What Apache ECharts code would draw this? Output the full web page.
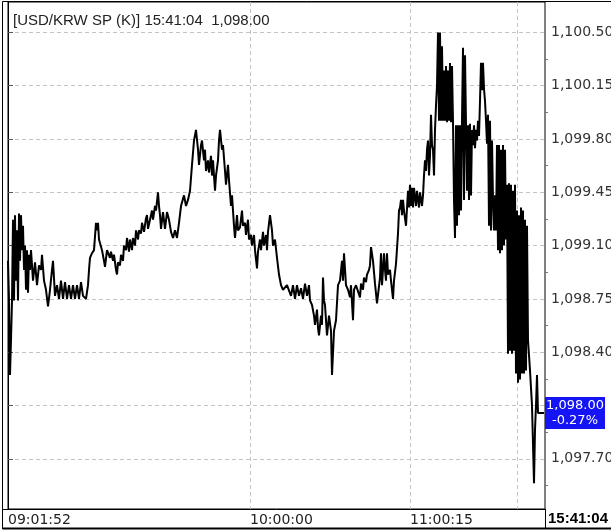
<!DOCTYPE html>
<html><head><meta charset="utf-8">
<script src="https://cdn.jsdelivr.net/npm/echarts@6/dist/echarts.min.js"></script>
<style>html,body{margin:0;padding:0;background:#fff;}#c{width:611px;height:532px;}</style>
</head><body><div id="c"></div>
<script>
// ---- data ----
const symbolName = '[USD/KRW SP (K)]';
const lastTime = '15:41:04';
const changePct = -0.27;
// tick number (sequence of trades) and price
const tickNo = [0,1,2,3,4,5,6,7,8,9,10,11,12,13,14,15,16,17,18,19,20,21,22,23,25,27,29,31,33,34,36,38,40,42,44,45,47,49,51,53,55,57,59,61,63,65,67,69,71,73,75,78,80,81,82,84,86,88,89,90,91,92,94,96,97,99,100,102,103,105,106,108,109,110,112,113,115,116,118,119,121,122,124,125,127,128,130,131,133,134,136,138,139,140,142,144,145,147,148,150,151,152,153,155,157,159,161,163,165,167,169,171,173,175,176,178,180,182,184,186,188,190,191,193,194,196,197,198,200,201,203,204,205,207,208,210,211,212,214,215,217,218,220,221,223,224,226,227,229,230,232,234,235,237,238,240,241,243,244,246,247,249,250,252,253,255,256,258,259,260,262,264,265,267,269,271,273,275,277,279,281,283,285,287,289,291,293,295,297,299,301,302,304,306,307,309,310,311,313,314,315,316,317,318,319,321,323,324,326,328,330,332,334,335,336,338,340,342,343,345,346,348,350,352,353,355,356,358,359,361,362,363,365,367,369,370,372,373,374,376,377,378,379,380,382,383,385,386,388,390,391,392,393,394,395,396,398,400,401,402,403,404,405,406,408,409,411,412,414,415,416,417,418,419,420,421,422,423,424,425,426,427,428,429,430,431,432,433,434,435,436,437,438,439,440,441,442,443,444,445,446,447,448,449,450,451,452,453,454,455,456,457,458,459,460,461,462,463,464,465,466,467,468,469,470,471,472,473,474,475,476,477,478,479,480,481,482,483,484,485,486,487,488,489,490,491,492,493,494,495,496,497,498,499,500,501,502,503,504,505,506,507,508,509,510,511,512,513,514,515,516,517,518,519,520,522,524,526,527,528,529,530,536];
const price = [1099.00,1098.74,1098.25,1098.48,1098.74,1099.27,1098.74,1099.30,1098.87,1099.20,1098.74,1099.31,1099.00,1099.30,1099.07,1099.23,1098.94,1099.10,1098.81,1099.07,1098.79,1099.04,1098.94,1099.07,1098.87,1098.99,1098.84,1098.97,1098.94,1099.04,1098.87,1098.81,1098.70,1098.81,1098.94,1099.00,1098.77,1098.84,1098.75,1098.87,1098.75,1098.86,1098.75,1098.84,1098.75,1098.84,1098.75,1098.84,1098.75,1098.86,1098.77,1098.75,1098.84,1098.94,1099.02,1099.05,1099.07,1099.25,1099.20,1099.25,1099.14,1099.15,1099.07,1099.00,1098.96,1099.07,1099.08,1099.02,1099.06,1099.00,1099.04,1098.94,1098.91,1098.99,1098.97,1099.04,1099.00,1099.10,1099.07,1099.15,1099.06,1099.14,1099.07,1099.15,1099.10,1099.20,1099.14,1099.20,1099.18,1099.25,1099.19,1099.28,1099.30,1099.21,1099.27,1099.33,1099.27,1099.36,1099.33,1099.45,1099.36,1099.30,1099.21,1099.32,1099.21,1099.32,1099.27,1099.19,1099.15,1099.20,1099.15,1099.25,1099.36,1099.36,1099.43,1099.36,1099.40,1099.46,1099.63,1099.79,1099.86,1099.73,1099.63,1099.76,1099.79,1099.66,1099.73,1099.59,1099.66,1099.58,1099.69,1099.56,1099.66,1099.46,1099.56,1099.66,1099.79,1099.86,1099.73,1099.76,1099.59,1099.50,1099.63,1099.53,1099.36,1099.43,1099.23,1099.15,1099.30,1099.20,1099.22,1099.33,1099.23,1099.25,1099.17,1099.27,1099.14,1099.17,1099.10,1099.17,1099.07,1098.95,1099.06,1099.14,1099.07,1099.19,1099.10,1099.17,1099.07,1099.19,1099.30,1099.20,1099.10,1099.14,1099.02,1098.91,1098.84,1098.81,1098.81,1098.84,1098.85,1098.77,1098.84,1098.75,1098.84,1098.77,1098.82,1098.75,1098.85,1098.77,1098.84,1098.74,1098.71,1098.64,1098.58,1098.68,1098.56,1098.51,1098.64,1098.58,1098.89,1098.74,1098.71,1098.61,1098.51,1098.64,1098.54,1098.25,1098.54,1098.61,1098.84,1098.87,1099.00,1098.87,1099.05,1098.84,1098.81,1098.76,1098.84,1098.61,1098.81,1098.84,1098.84,1098.76,1098.85,1098.81,1098.89,1098.86,1098.91,1098.94,1098.97,1099.09,1099.00,1098.85,1098.72,1098.71,1098.89,1099.05,1098.84,1099.05,1098.94,1098.87,1099.05,1098.91,1098.94,1098.87,1098.75,1098.87,1098.98,1099.18,1099.33,1099.35,1099.40,1099.30,1099.40,1099.33,1099.23,1099.46,1099.35,1099.50,1099.36,1099.48,1099.35,1099.48,1099.36,1099.46,1099.35,1099.45,1099.36,1099.43,1099.56,1099.66,1099.59,1099.73,1099.79,1099.56,1099.69,1099.96,1099.76,1099.73,1099.56,1099.86,1100.02,1100.15,1100.50,1099.92,1100.50,1099.92,1100.41,1099.92,1100.25,1099.92,1100.28,1099.91,1100.25,1099.92,1100.30,1099.91,1100.28,1099.91,1099.40,1099.15,1099.89,1099.23,1099.89,1099.30,1099.89,1099.33,1099.92,1100.40,1099.40,1100.35,1099.90,1099.46,1099.89,1099.40,1099.90,1099.43,1099.86,1099.76,1099.89,1099.74,1099.86,1099.79,1099.92,1099.82,1100.05,1100.30,1100.12,1100.30,1100.13,1100.05,1099.92,1099.77,1099.96,1099.23,1099.92,1099.20,1099.79,1099.40,1099.20,1099.43,1099.20,1099.76,1099.07,1099.76,1099.05,1099.73,1099.07,1099.76,1099.10,1099.73,1099.14,1099.50,1098.39,1099.51,1098.41,1099.50,1098.39,1099.46,1098.41,1099.50,1098.26,1099.33,1098.20,1099.30,1098.22,1099.35,1098.26,1099.33,1098.26,1099.27,1098.28,1099.23,1098.48,1098.28,1098.05,1097.54,1097.89,1098.05,1098.25,1098.00,1098.00];
// axis ticks
const priceTicks = [1097.70,1098.05,1098.40,1098.75,1099.10,1099.45,1099.80,1100.15,1100.50];
const priceLabels = [1097.70,1098.40,1098.75,1099.10,1099.45,1099.80,1100.15,1100.50];
const priceMinorTicks = [1097.525,1097.875,1098.225,1098.575,1098.925,1099.275,1099.625,1099.975,1100.325];
const timeTickNo = [0,242,402];
const timeLabels = ['09:01:52','10:00:00','11:00:15'];
const timeGridNo = [242,402,509];

// ---- helpers ----
function fmt(v){
  const s = v.toFixed(2); const parts = s.split('.');
  let ip = parts[0], neg = '';
  if (ip[0]==='-'){neg='-'; ip=ip.slice(1);}
  ip = ip.replace(/\B(?=(\d{3})+(?!\d))/g, ',');
  return neg + ip + '.' + parts[1];
}
const lastPrice = price[price.length-1];
const FONT = '"Liberation Sans", Arial, sans-serif';
const AFONT = '"DejaVu Sans", sans-serif';
const data = tickNo.map((t,i)=>[t, price[i]]);

const chart = echarts.init(document.getElementById('c'), null, {renderer:'canvas'});
chart.setOption({
  animation:false,
  backgroundColor:'#fff',
  title:{
    text: symbolName + ' ' + lastTime + '  ' + fmt(lastPrice),
    left: 8, top: 8,
    textStyle:{fontFamily:FONT, fontSize:15, fontWeight:'normal', color:'#222'}
  },
  grid:{left:8, right:66, top:2, bottom:23, outerBoundsMode:'none', containLabel:false,
    show:true, borderColor:'#000', borderWidth:1, backgroundColor:'transparent'},
  xAxis:{
    type:'value', min:0, max:537,
    axisLine:{show:true, lineStyle:{color:'#000', width:1}},
    axisTick:{show:false, customValues: timeGridNo},
    splitLine:{show:true, lineStyle:{color:'#c4c4c4', type:[4,3], width:1}},
    axisLabel:{
      customValues: timeTickNo,
      align:'left', margin:4,
      fontFamily:AFONT, fontSize:14, color:'#222',
      formatter:function(v){
        const i = timeTickNo.indexOf(v);
        return i>=0 ? timeLabels[i] : '';
      }
    }
  },
  yAxis:[{
    type:'value', position:'right', min:1097.37, max:1100.70,
    axisLine:{show:true, lineStyle:{color:'#000', width:1}},
    axisTick:{show:true, customValues: priceTicks, length:5, lineStyle:{color:'#555'}},
    splitLine:{show:true, lineStyle:{color:'#c4c4c4', type:[4,3], width:1}},
    axisLabel:{customValues: priceLabels, margin:6, fontFamily:AFONT, fontSize:14, color:'#333',
      formatter:function(v){return fmt(v);}}
  },{
    type:'value', position:'right', min:1097.37, max:1100.70,
    axisLine:{show:false},
    axisTick:{show:true, customValues: priceMinorTicks, length:3, lineStyle:{color:'#777'}},
    splitLine:{show:false},
    axisLabel:{show:false}
  }],
  graphic:[
    {type:'line', silent:true, shape:{x1:2.5, y1:1.5, x2:2.5, y2:529}, style:{stroke:'#000', lineWidth:1}},
    {type:'line', silent:true, shape:{x1:2.5, y1:1.5, x2:611, y2:1.5}, style:{stroke:'#000', lineWidth:1}},
    {type:'line', silent:true, shape:{x1:2.5, y1:528.5, x2:611, y2:528.5}, style:{stroke:'#000', lineWidth:2}},
    {type:'line', silent:true, shape:{x1:545.5, y1:509, x2:545.5, y2:528}, style:{stroke:'#000', lineWidth:1}},
    {type:'line', silent:true, shape:{x1:2.5, y1:509.5, x2:8.5, y2:509.5}, style:{stroke:'#000', lineWidth:1}},
    {type:'text', silent:true, right:3, top:511,
      style:{text:lastTime, font:'bold 15px "Liberation Sans", Arial, sans-serif', fill:'#000'}}
  ],
  series:[{
    type:'line', data:data, showSymbol:false, symbol:'none', sampling:null,
    lineStyle:{color:'#000', width:2},
    markLine:{
      silent:true, symbol:['none','none'],
      lineStyle:{color:'rgba(0,0,0,0)', width:1},
      data:[{yAxis:lastPrice}],
      label:{
        show:true, position:'end', distance:0,
        formatter: '{a|' + fmt(lastPrice) + '}\n{a|' + fmt(changePct) + '%}',
        backgroundColor:'#1414f5', padding:[1,0,1,0],
        rich:{a:{fontFamily:AFONT, fontSize:13, lineHeight:15, color:'#fff', width:60, align:'center'}}
      }
    }
  }]
});
</script></body></html>
